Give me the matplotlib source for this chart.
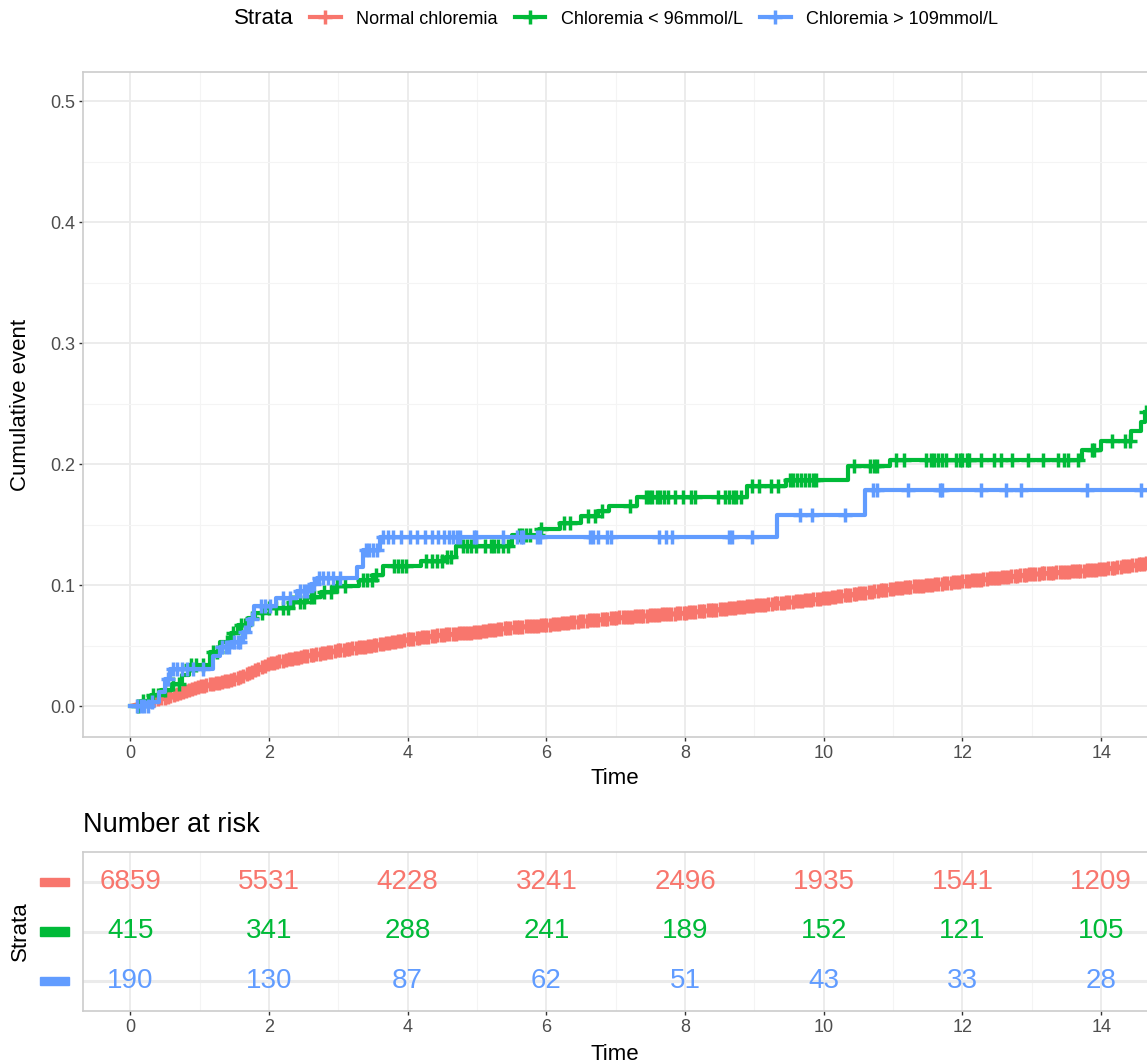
import matplotlib
matplotlib.use("Agg")
import matplotlib.pyplot as plt
import matplotlib.transforms as mtransforms
from matplotlib.lines import Line2D
from matplotlib.patches import Rectangle
import numpy as np

plt.rcParams["font.family"] = ["Liberation Sans", "DejaVu Sans"]

STRATA = ["Normal chloremia", "Chloremia < 96mmol/L", "Chloremia > 109mmol/L"]
COLORS = ["#F8766D", "#00BA38", "#619CFF"]

# cumulative event curves (time, value)
red_t = [0, 0.5, 1.0, 1.5, 1.75, 2.0, 2.5, 3.0, 3.5, 4.0, 4.5, 5.0, 5.5, 6.0, 6.5, 7.0,
         7.5, 8.0, 8.5, 9.0, 9.5, 10.0, 10.5, 11.0, 11.5, 12.0, 12.5, 13.0, 13.5, 14.0, 14.66]
red_v = [0, 0.007, 0.016, 0.022, 0.028, 0.035, 0.041, 0.046, 0.050, 0.055, 0.059, 0.061,
         0.065, 0.067, 0.070, 0.073, 0.075, 0.077, 0.080, 0.083, 0.086, 0.089, 0.093, 0.097,
         0.100, 0.103, 0.106, 0.109, 0.111, 0.113, 0.118]

green_t = [0, 0.15, 0.3, 0.45, 0.6, 0.75, 0.85, 1.15, 1.3, 1.45, 1.55, 1.7, 1.8, 1.95, 2.3,
           2.55, 2.75, 2.95, 3.3, 3.5, 3.65, 4.2, 4.55, 4.7, 5.5, 5.9, 6.2, 6.5, 6.75, 6.9,
           7.3, 8.9, 9.45, 10.35, 10.95, 13.72, 14.0, 14.43, 14.58, 14.63]
green_v = [0, 0.004, 0.009, 0.013, 0.018, 0.026, 0.034, 0.045, 0.053, 0.060, 0.067, 0.073,
           0.077, 0.081, 0.086, 0.090, 0.094, 0.099, 0.104, 0.108, 0.116, 0.120, 0.123, 0.132,
           0.141, 0.146, 0.151, 0.157, 0.161, 0.165, 0.173, 0.182, 0.187, 0.198, 0.2033,
           0.2116, 0.219, 0.227, 0.235, 0.243]

blue_t = [0, 0.3, 0.42, 0.5, 0.58, 1.2, 1.3, 1.45, 1.62, 1.72, 1.78, 2.1, 2.4, 2.6, 2.7,
          3.27, 3.36, 3.6, 9.33, 10.6, 14.66]
blue_v = [0, 0.003, 0.012, 0.022, 0.031, 0.041, 0.049, 0.053, 0.061, 0.072, 0.083, 0.089,
          0.095, 0.101, 0.106, 0.115, 0.129, 0.140, 0.158, 0.1785, 0.1785]

# censoring times
red_censor = [0.3, 0.4, 0.5, 0.58, 0.67, 0.76, 0.85, 0.93, 1.02, 1.1, 1.2, 1.28, 1.37, 1.45,
              1.55, 1.63, 1.72, 1.8, 1.9, 1.98, 2.07, 2.15, 2.25, 2.33, 2.42, 2.5, 2.6, 2.68,
              2.77, 2.85, 2.95, 3.03, 3.12, 3.2, 3.3, 3.38, 3.47, 3.55, 3.65, 3.73, 3.82, 3.9,
              4.0, 4.08, 4.17, 4.25, 4.35, 4.43, 4.52, 4.6, 4.7, 4.78, 4.87, 4.95, 5.05, 5.13,
              5.22, 5.3, 5.4, 5.48, 5.57, 5.65, 5.75, 5.83, 5.92, 6.0, 6.1, 6.18, 6.27, 6.35,
              6.45, 6.53, 6.62, 6.7, 6.8, 6.88, 6.97, 7.05, 7.15, 7.23, 7.32, 7.4, 7.5, 7.58,
              7.67, 7.75, 7.85, 7.93, 8.02, 8.1, 8.2, 8.28, 8.37, 8.45, 8.55, 8.63, 8.72, 8.8,
              8.9, 8.98, 9.07, 9.15, 9.25, 9.33, 9.42, 9.5, 9.6, 9.68, 9.77, 9.85, 9.95, 10.03,
              10.12, 10.2, 10.3, 10.38, 10.47, 10.55, 10.65, 10.73, 10.82, 10.9, 11.0, 11.08,
              11.17, 11.25, 11.35, 11.43, 11.52, 11.6, 11.7, 11.78, 11.87, 11.95, 12.05, 12.13,
              12.22, 12.3, 12.4, 12.48, 12.57, 12.65, 12.75, 12.83, 12.92, 13.0, 13.1, 13.18,
              13.27, 13.35, 13.45, 13.53, 13.62, 13.7, 13.8, 13.88, 13.97, 14.05, 14.15, 14.23,
              14.32, 14.4, 14.5, 14.58, 14.65,
              0.35, 0.45, 0.54, 0.63, 0.72, 0.81, 0.89, 0.98, 1.06, 1.15, 1.24, 1.33, 1.41,
              1.5, 1.59, 1.68, 1.76, 1.85, 1.94, 2.03, 2.11, 2.2, 2.29, 2.38, 2.46, 2.55, 2.64,
              2.73, 2.81, 2.9, 2.99, 3.08, 3.16, 3.25, 3.34, 3.43, 3.51, 3.6, 3.69, 3.78, 3.86,
              3.95, 4.04, 4.13, 4.21, 4.3, 4.39, 4.48, 4.56, 4.65, 4.74, 4.83, 4.91, 5.0, 5.09,
              5.18, 5.26, 5.35, 5.44, 5.53, 5.61, 5.7, 5.79, 5.88, 5.96, 6.05, 6.14, 6.23,
              6.31, 6.4, 6.49, 6.58, 6.66, 6.75, 6.84, 6.93, 7.01, 7.1, 7.19, 7.28, 7.36, 7.45,
              7.54, 7.63, 7.71, 7.8, 7.89, 7.98, 8.06, 8.15, 8.24, 8.33, 8.41, 8.5, 8.59, 8.68,
              8.76, 8.85, 8.94, 9.03, 9.11, 9.2, 9.29, 9.38, 9.46, 9.55, 9.64, 9.73, 9.81, 9.9,
              9.99, 10.08, 10.16, 10.25, 10.34, 10.43, 10.51, 10.6, 10.69, 10.78, 10.86, 10.95,
              11.04, 11.13, 11.21, 11.3, 11.39, 11.48, 11.56, 11.65, 11.74, 11.83, 11.91, 12.0,
              12.09, 12.18, 12.26, 12.35, 12.44, 12.53, 12.61, 12.7, 12.79, 12.88, 12.96,
              13.05, 13.14, 13.23, 13.31, 13.4, 13.49, 13.58, 13.66, 13.75, 13.84, 13.93,
              14.01, 14.1, 14.19, 14.28, 14.36, 14.45, 14.54, 14.62]
green_censor = [0.12, 0.18, 0.25, 0.33, 0.4, 0.5, 0.62, 0.7, 0.88, 0.95, 1.05, 1.2, 1.25, 1.4,
                1.48, 1.6, 1.65, 1.75, 1.9, 2.0, 2.1, 2.2, 2.27, 2.35, 2.45, 2.5, 2.6, 2.65,
                2.8, 2.9, 2.98, 3.1, 3.36, 3.42, 3.48, 3.55, 3.8, 3.86, 3.92, 3.98, 4.27, 4.35,
                4.42, 4.49, 4.57, 4.62, 4.8, 4.86, 4.92, 4.99, 5.12, 5.2, 5.25, 5.3, 5.38, 5.45,
                5.6, 5.65, 5.7, 5.76, 5.88, 5.93, 6.25, 6.34, 6.6, 6.7, 6.8, 7.2, 7.43, 7.48,
                7.53, 7.59, 7.64, 7.7, 7.75, 7.86, 7.97, 8.08, 8.14, 8.47, 8.57, 8.63, 8.69,
                8.74, 8.8, 8.96, 9.07, 9.24, 9.34, 9.51, 9.56, 9.62, 9.67, 9.73, 9.78, 9.84,
                9.89, 10.44, 10.66, 10.72, 10.77, 11.04, 11.15, 11.48, 11.54, 11.59, 11.65,
                11.7, 11.76, 11.91, 11.96, 12.0, 12.06, 12.1, 12.27, 12.46, 12.56, 12.72, 12.94,
                13.16, 13.37, 13.47, 13.52, 13.66, 13.86, 13.9, 14.15, 14.34, 14.41, 14.64]
blue_censor = [0.1, 0.15, 0.2, 0.25, 0.32, 0.55, 0.62, 0.68, 0.75, 0.82, 0.9, 1.05, 1.32, 1.38,
               1.43, 1.5, 1.55, 1.58, 1.66, 1.75, 1.88, 1.95, 2.02, 2.2, 2.3, 2.45, 2.5, 2.55,
               2.65, 2.72, 2.78, 2.85, 2.93, 3.03, 3.4, 3.45, 3.5, 3.56, 3.65, 3.72, 3.79, 3.91,
               4.03, 4.13, 4.25, 4.35, 4.44, 4.52, 4.59, 4.66, 4.71, 4.75, 4.95, 4.99, 5.38,
               5.57, 5.64, 5.67, 5.86, 5.91, 6.63, 6.68, 6.74, 6.88, 6.93, 7.62, 7.73, 7.81,
               8.63, 8.68, 8.96, 9.65, 9.83, 10.3, 10.71, 10.77, 11.22, 11.68, 11.71, 12.27,
               12.62, 12.85, 13.8, 14.58]

# number at risk table
risk_times = [0, 2, 4, 6, 8, 10, 12, 14]
risk_red = [6859, 5531, 4228, 3241, 2496, 1935, 1541, 1209]
risk_green = [415, 341, 288, 241, 189, 152, 121, 105]
risk_blue = [190, 130, 87, 62, 51, 43, 33, 28]

GRID = "#EBEBEB"
MINOR = "#F4F4F4"
BORDER = "#CCCCCC"
TICKTXT = "#4D4D4D"
XLIM = (-0.68, 14.66)
MS, MEW = 10.5, 2.5


def style_axes(ax):
    for side in ["left", "bottom", "top"]:
        ax.spines[side].set_color(BORDER)
        ax.spines[side].set_linewidth(1.2)
    ax.spines["right"].set_visible(False)
    ax.set_axisbelow(True)
    ax.grid(True, which="major", color=GRID, linewidth=1.3)
    ax.grid(True, which="minor", color=MINOR, linewidth=0.8)
    ax.tick_params(which="major", length=3.2, width=1.0, color="#333333",
                   labelsize=13, labelcolor=TICKTXT, pad=2.5)
    ax.tick_params(which="minor", length=0)


fig = plt.figure(figsize=(11.47, 10.64), dpi=100)
W, H = 1147, 1064

ax = fig.add_axes([83 / W, 1 - 737 / H, 1 - 83 / W, 665 / H])
style_axes(ax)

step = lambda t, v, c: np.array(v)[np.searchsorted(t, c, side="right") - 1]
ax.plot(red_t, red_v, color=COLORS[0], lw=3.0, solid_capstyle="butt")
ax.plot(red_censor, np.interp(red_censor, red_t, red_v), ls="none", marker="+",
        ms=MS, mew=MEW, color=COLORS[0])
for t, v, cens, col in [(green_t, green_v, green_censor, COLORS[1]),
                        (blue_t, blue_v, blue_censor, COLORS[2])]:
    ax.step(t, v, where="post", color=col, lw=3.0)
    ax.plot(cens, step(t, v, cens), ls="none", marker="+", ms=MS, mew=MEW, color=col)

ax.set_xlim(*XLIM)
ax.set_ylim(-0.0256, 0.524)
ax.set_xticks(np.arange(0, 15, 2))
ax.set_xticks(np.arange(1, 15, 2), minor=True)
ax.set_yticks([0.0, 0.1, 0.2, 0.3, 0.4, 0.5])
ax.set_yticks([0.05, 0.15, 0.25, 0.35, 0.45], minor=True)
ax.set_yticklabels(["0.0", "0.1", "0.2", "0.3", "0.4", "0.5"])
ax.set_xlabel("Time", fontsize=16, va="top")
ax.xaxis.set_label_coords((615 - 83) / 1064, -0.047)
ax.set_ylabel("Cumulative event", fontsize=16, va="center")
ax.yaxis.set_label_coords(-0.059, 0.5)

# legend on top
fig.text(234 / W, 1 - 19 / H, "Strata", fontsize=16, va="center", ha="left")
handles = [Line2D([0], [0], color=c, lw=3.0, marker="+", ms=MS, mew=MEW) for c in COLORS]
fig.legend(handles, STRATA, loc="center left", bbox_to_anchor=(310 / W, 1 - 19 / H),
           ncol=3, frameon=False, fontsize=13, handlelength=1.7, handletextpad=0.85,
           columnspacing=0.95, borderaxespad=0, borderpad=0)

# risk table
axr = fig.add_axes([83 / W, 1 - 1011 / H, 1 - 83 / W, 159 / H])
style_axes(axr)
axr.grid(True, which="major", axis="y", color=GRID, linewidth=2.2)
for row, counts, col in [(3, risk_red, COLORS[0]), (2, risk_green, COLORS[1]),
                         (1, risk_blue, COLORS[2])]:
    for t, n in zip(risk_times, counts):
        axr.text(t, row, str(n), color=col, fontsize=20, ha="center", va="center")
axr.set_xlim(*XLIM)
axr.set_ylim(0.4, 3.6)
axr.set_xticks(risk_times)
axr.set_xticks(np.arange(1, 15, 2), minor=True)
axr.set_yticks([1, 2, 3])
axr.set_yticklabels([])
axr.tick_params(axis="y", which="major", length=0)
trans = mtransforms.blended_transform_factory(fig.transFigure, axr.transData)
for row, col in [(3, COLORS[0]), (2, COLORS[1]), (1, COLORS[2])]:
    axr.add_patch(Rectangle((40 / W, row - 0.085), 29 / W, 0.17, transform=trans,
                            color=col, clip_on=False))
axr.set_xlabel("Time", fontsize=16, va="top")
axr.xaxis.set_label_coords((615 - 83) / 1064, -0.21)
axr.set_ylabel("Strata", fontsize=16, va="center")
axr.yaxis.set_label_coords(-0.059, 0.5)
axr.text(0, 1.17, "Number at risk", transform=axr.transAxes, fontsize=19.5,
         ha="left", va="center")

fig.savefig("out.png", dpi=100)
